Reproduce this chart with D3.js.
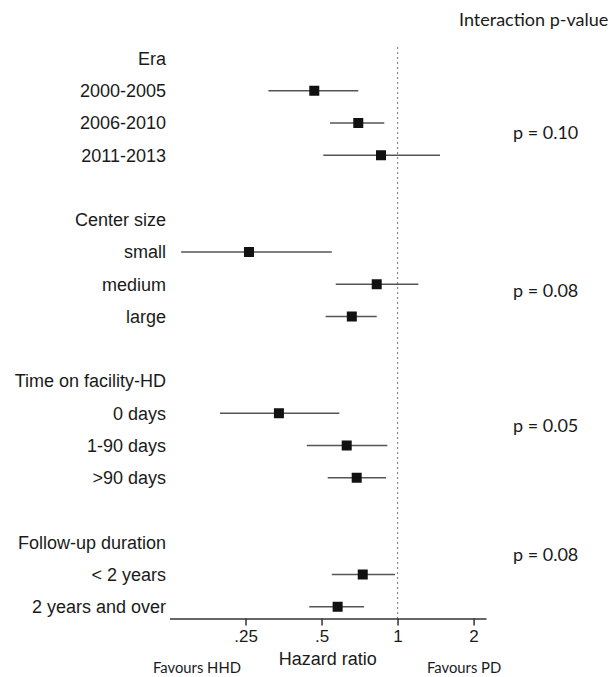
<!DOCTYPE html>
<html>
<head>
  <meta charset="UTF-8">
  <script src="https://d3js.org/d3.v7.min.js"></script>
  <title>Hazard ratio forest plot</title>
  <style type="text/css">
    html, body { margin:0; padding:0; background:#fff; }
    svg text { fill:#1a1a1a; }
  </style>
</head>
<body>
<div id="chart"></div>
<script>
// rows from top to bottom, "" = spacer row
var rowLabels = ["Era", "2000-2005", "2006-2010", "2011-2013", "",
                 "Center size", "small", "medium", "large", "",
                 "Time on facility-HD", "0 days", "1-90 days", ">90 days", "",
                 "Follow-up duration", "< 2 years", "2 years and over"];

// hazard ratios and 95% CI, null for header/spacer rows
var estimates = [null, 0.468, 0.699, 0.860, null,
                 null, 0.258, 0.827, 0.659, null,
                 null, 0.339, 0.629, 0.689, null,
                 null, 0.728, 0.579];
var lower =     [null, 0.308, 0.540, 0.508, null,
                 null, 0.139, 0.569, 0.519, null,
                 null, 0.198, 0.437, 0.529, null,
                 null, 0.549, 0.447];
var upper =     [null, 0.699, 0.886, 1.473, null,
                 null, 0.549, 1.209, 0.827, null,
                 null, 0.588, 0.911, 0.901, null,
                 null, 0.977, 0.737];

var pValues = ["p = 0.10", "p = 0.08", "p = 0.05", "p = 0.08"];
var pRowPos = [2.3, 7.2, 11.4, 15.4];

var tickValues = [0.25, 0.5, 1, 2];
var tickLabels = [".25", ".5", "1", "2"];

var width = 613, height = 677;

var svg = d3.select("#chart").append("svg")
  .attr("width", width)
  .attr("height", height);

var x = d3.scaleLog().base(2)
  .domain([0.125, 2.24])
  .range([169.5, 486]);

var y = d3.scaleLinear()
  .domain([0, rowLabels.length - 1])
  .range([58.5, 606.75]);

var axisY = 618.5;

// reference line at HR = 1
svg.append("line")
  .attr("x1", x(1)).attr("x2", x(1))
  .attr("y1", 47).attr("y2", axisY)
  .attr("stroke", "#8a8a8a")
  .attr("stroke-width", 1.2)
  .attr("stroke-dasharray", "2,3");

// x axis
var xAxis = d3.axisBottom(x)
  .tickValues(tickValues)
  .tickFormat(function(d, i) { return tickLabels[i]; })
  .tickSize(7)
  .tickSizeOuter(0);

var gx = svg.append("g")
  .attr("transform", "translate(0," + axisY + ")")
  .call(xAxis);
gx.select(".domain").attr("stroke", "#333").attr("stroke-width", 1.5);
gx.selectAll(".tick line").attr("stroke", "#333").attr("stroke-width", 1.5);
gx.selectAll(".tick text")
  .attr("y", 11)
  .style("font-family", "'Liberation Sans', Arial, sans-serif")
  .style("font-size", "17px")
  .attr("fill", "#1a1a1a");

svg.append("text")
  .attr("x", (x.range()[0] + x.range()[1]) / 2)
  .attr("y", 665)
  .attr("text-anchor", "middle")
  .style("font-family", "'Liberation Sans', Arial, sans-serif")
  .style("font-size", "18px")
  .text("Hazard ratio");

svg.append("text")
  .attr("x", 153).attr("y", 673)
  .style("font-family", "Lato, 'Open Sans', sans-serif")
  .style("font-size", "14.8px")
  .text("Favours HHD");

svg.append("text")
  .attr("x", 427).attr("y", 673)
  .style("font-family", "Lato, 'Open Sans', sans-serif")
  .style("font-size", "14.8px")
  .text("Favours PD");

// row labels
svg.selectAll(".rowlabel")
  .data(rowLabels)
  .enter()
  .append("text")
  .attr("class", "rowlabel")
  .attr("x", 166)
  .attr("y", function(d, i) { return y(i); })
  .attr("dy", "0.35em")
  .attr("text-anchor", "end")
  .style("font-family", "'Liberation Sans', Arial, sans-serif")
  .style("font-size", "18px")
  .text(function(d) { return d; });

var rows = estimates.map(function(d, i) {
  return {i: i, est: d, lo: lower[i], hi: upper[i]};
}).filter(function(d) { return d.est !== null; });

// confidence intervals
svg.selectAll(".ci")
  .data(rows)
  .enter()
  .append("line")
  .attr("class", "ci")
  .attr("x1", function(d) { return x(d.lo); })
  .attr("x2", function(d) { return x(d.hi); })
  .attr("y1", function(d) { return y(d.i); })
  .attr("y2", function(d) { return y(d.i); })
  .attr("stroke", "#555")
  .attr("stroke-width", 1.6);

// point estimates
var sq = 10;
svg.selectAll(".est")
  .data(rows)
  .enter()
  .append("rect")
  .attr("class", "est")
  .attr("x", function(d) { return x(d.est) - sq / 2; })
  .attr("y", function(d) { return y(d.i) - sq / 2; })
  .attr("width", sq)
  .attr("height", sq)
  .attr("fill", "#111");

// interaction p-values
svg.append("text")
  .attr("x", 459).attr("y", 26)
  .style("font-family", "Lato, 'Open Sans', sans-serif")
  .style("font-size", "18px")
  .text("Interaction p-value");

svg.selectAll(".pval")
  .data(pValues)
  .enter()
  .append("text")
  .attr("class", "pval")
  .attr("x", 513)
  .attr("y", function(d, i) { return y(pRowPos[i]); })
  .attr("dy", "0.35em")
  .style("font-family", "Lato, 'Open Sans', sans-serif")
  .style("font-size", "18px")
  .text(function(d) { return d; });
</script>
</body>
</html>
